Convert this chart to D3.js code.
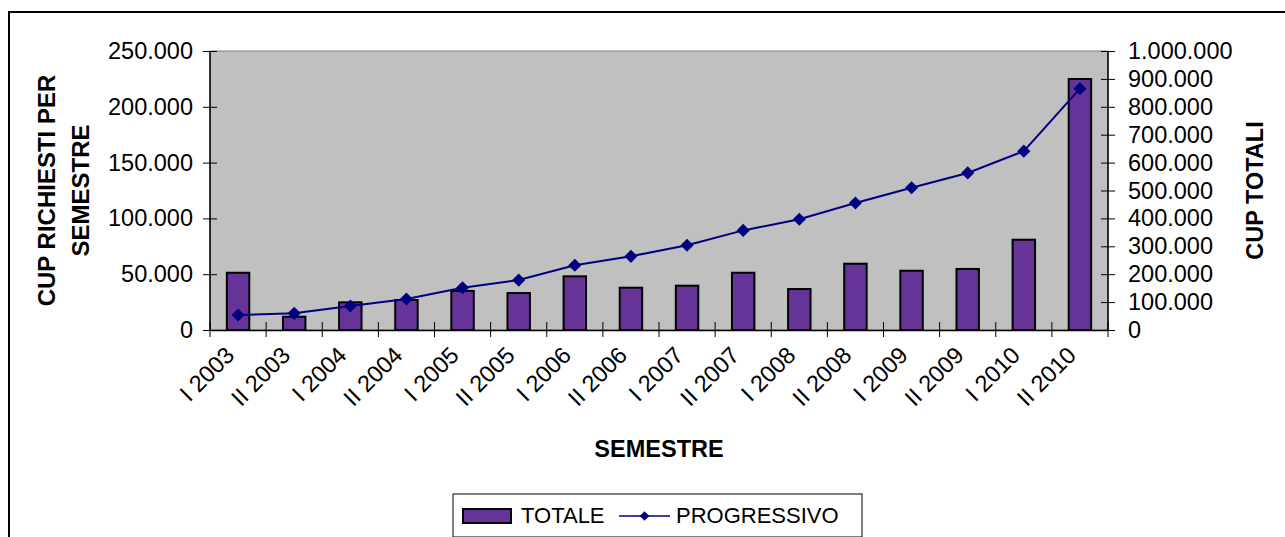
<!DOCTYPE html>
<html>
<head>
<meta charset="utf-8">
<script src="https://cdn.jsdelivr.net/npm/d3@7"></script>
<style>
  body { margin: 0; background: #fff; }
  text { font-family: "Liberation Sans", Arial, sans-serif; fill: #000; }
</style>
</head>
<body>
<div id="chart"></div>
<script>
// Semesters (categories)
const semestri = ['I 2003', 'II 2003', 'I 2004', 'II 2004', 'I 2005', 'II 2005', 'I 2006', 'II 2006',
  'I 2007', 'II 2007', 'I 2008', 'II 2008', 'I 2009', 'II 2009', 'I 2010', 'II 2010'];

// CUP requested per semester (bars, left axis)
const totale = [51300, 11900, 24800, 26900, 35000, 33100, 48100, 37900,
  39700, 51300, 36700, 59400, 53100, 54700, 80900, 224900];

// Cumulative CUP (line, right axis)
const progressivo = [53800, 59800, 86000, 111000, 151600, 179000, 232000, 264000,
  303600, 357000, 397000, 455000, 510000, 563000, 641000, 865000];

const leftTicks = [0, 50000, 100000, 150000, 200000, 250000];
const rightTicks = [0, 100000, 200000, 300000, 400000, 500000, 600000, 700000, 800000, 900000, 1000000];

// Italian style thousands separator
const fmt = d => d3.format(',')(d).replace(/,/g, '.');

const W = 1285, H = 537;
const plot = { left: 210, right: 1108, top: 51, bottom: 330 };

const svg = d3.select('#chart')
  .append('svg')
  .attr('width', W)
  .attr('height', H);

// outer chart frame (right and bottom edges fall outside the picture)
svg.append('path')
  .attr('d', `M9,${H + 5}V12H${W + 5}`)
  .attr('fill', 'none')
  .attr('stroke', '#000')
  .attr('stroke-width', 2);

const x = d3.scaleBand()
  .domain(semestri)
  .range([plot.left, plot.right]);

const yL = d3.scaleLinear()
  .domain([0, 250000])
  .range([plot.bottom, plot.top]);

const yR = d3.scaleLinear()
  .domain([0, 1000000])
  .range([plot.bottom, plot.top]);

// plot background
svg.append('rect')
  .attr('x', plot.left)
  .attr('y', plot.top)
  .attr('width', plot.right - plot.left)
  .attr('height', plot.bottom - plot.top)
  .attr('fill', '#c0c0c0')
  .attr('stroke', '#808080')
  .attr('stroke-width', 1);

// bars
const barW = x.bandwidth() * 0.4;
svg.selectAll('.bar')
  .data(semestri)
  .enter()
  .append('rect')
  .attr('class', 'bar')
  .attr('x', (d) => x(d) + (x.bandwidth() - barW) / 2)
  .attr('y', (d, i) => yL(totale[i]))
  .attr('width', barW)
  .attr('height', (d, i) => plot.bottom - yL(totale[i]))
  .attr('fill', '#663399')
  .attr('stroke', '#000')
  .attr('stroke-width', 2);

// left axis
const axisL = svg.append('g')
  .attr('transform', `translate(${plot.left},0)`)
  .call(d3.axisLeft(yL).tickValues(leftTicks).tickFormat(fmt).tickSize(7).tickPadding(10));
axisL.selectAll('.tick line').attr('x2', 7).attr('x1', -7);

// right axis
const axisR = svg.append('g')
  .attr('transform', `translate(${plot.right},0)`)
  .call(d3.axisRight(yR).tickValues(rightTicks).tickFormat(fmt).tickSize(7).tickPadding(13));
axisR.selectAll('.tick line').attr('x1', -7).attr('x2', 7);

// bottom axis, ticks between categories
const axisB = svg.append('g')
  .attr('transform', `translate(0,${plot.bottom})`)
  .call(d3.axisBottom(x).tickSize(0).tickFormat(''));
axisB.selectAll('.tick').remove();
axisB.selectAll('.sep')
  .data(d3.range(semestri.length + 1))
  .enter()
  .append('line')
  .attr('x1', (i) => plot.left + i * x.step())
  .attr('x2', (i) => plot.left + i * x.step())
  .attr('y1', -8)
  .attr('y2', 7)
  .attr('stroke', '#000');

[axisL, axisR, axisB].forEach(a => {
  a.select('.domain').attr('stroke', '#000').attr('stroke-width', 1.5);
  a.selectAll('line').attr('stroke', '#000');
  a.selectAll('text').style('font-size', '23.5px').attr('fill', '#000');
});
axisL.select('.domain').attr('d', `M0,${plot.bottom}V${plot.top}`);
axisR.select('.domain').attr('d', `M0,${plot.bottom}V${plot.top}`);

// rotated category labels
svg.selectAll('.xlab')
  .data(semestri)
  .enter()
  .append('text')
  .attr('class', 'xlab')
  .attr('transform', (d) => `translate(${x(d) + x.bandwidth() / 2 - 14},${plot.bottom + 15}) rotate(-45)`)
  .attr('text-anchor', 'end')
  .attr('dy', '0.7em')
  .style('font-size', '23.5px')
  .text(d => d);

// cumulative line
const line = d3.line()
  .x((d, i) => x(semestri[i]) + x.bandwidth() / 2)
  .y(d => yR(d));

svg.append('path')
  .datum(progressivo)
  .attr('d', line)
  .attr('fill', 'none')
  .attr('stroke', '#000080')
  .attr('stroke-width', 2);

const diamond = d3.symbol().type(d3.symbolDiamond2).size(110);
svg.selectAll('.pt')
  .data(progressivo)
  .enter()
  .append('path')
  .attr('class', 'pt')
  .attr('transform', (d, i) => `translate(${x(semestri[i]) + x.bandwidth() / 2},${yR(d)})`)
  .attr('d', diamond)
  .attr('fill', '#000080');

// axis titles
const titleL = svg.append('text')
  .attr('transform', `translate(47,${(plot.top + plot.bottom) / 2}) rotate(-90)`)
  .attr('text-anchor', 'middle')
  .style('font-size', '24px')
  .style('font-weight', 'bold');
titleL.append('tspan').attr('x', 0).attr('dy', '0.35em').text('CUP RICHIESTI PER');
titleL.append('tspan').attr('x', 0).attr('dy', '1.38em').text('SEMESTRE');

svg.append('text')
  .attr('transform', `translate(1255,${(plot.top + plot.bottom) / 2}) rotate(-90)`)
  .attr('text-anchor', 'middle')
  .attr('dy', '0.35em')
  .style('font-size', '23.5px')
  .style('font-weight', 'bold')
  .text('CUP TOTALI');

svg.append('text')
  .attr('x', 659)
  .attr('y', 457)
  .attr('text-anchor', 'middle')
  .style('font-size', '23.5px')
  .style('font-weight', 'bold')
  .text('SEMESTRE');

// legend
const legend = svg.append('g')
  .attr('class', 'legend')
  .attr('transform', 'translate(453,494)');

legend.append('rect')
  .attr('width', 409)
  .attr('height', 43)
  .attr('fill', '#fff')
  .attr('stroke', '#000');

legend.append('rect')
  .attr('x', 10)
  .attr('y', 15)
  .attr('width', 48)
  .attr('height', 14)
  .attr('fill', '#663399')
  .attr('stroke', '#000')
  .attr('stroke-width', 2);

legend.append('text')
  .attr('x', 68)
  .attr('y', 29)
  .style('font-size', '22px')
  .text('TOTALE');

legend.append('line')
  .attr('x1', 166)
  .attr('x2', 217)
  .attr('y1', 22)
  .attr('y2', 22)
  .attr('stroke', '#000080')
  .attr('stroke-width', 1.5);

legend.append('path')
  .attr('transform', 'translate(191.5,22)')
  .attr('d', d3.symbol().type(d3.symbolDiamond2).size(60))
  .attr('fill', '#000080');

legend.append('text')
  .attr('x', 223)
  .attr('y', 29)
  .style('font-size', '22px')
  .text('PROGRESSIVO');
</script>
</body>
</html>
